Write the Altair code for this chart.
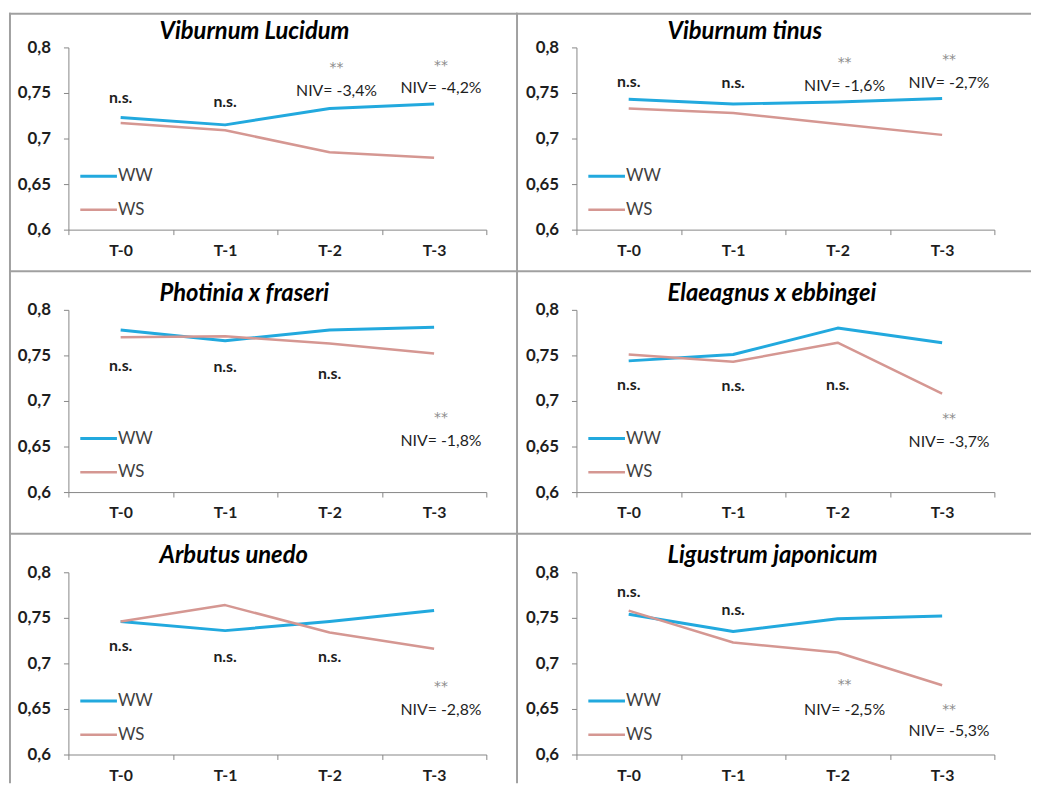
import altair as alt
import pandas as pd

# ---------------- data ----------------
times = ["T-0", "T-1", "T-2", "T-3"]
series_names = ["WW", "WS"]

species = [
    "Viburnum Lucidum",
    "Viburnum tinus",
    "Photinia x fraseri",
    "Elaeagnus x ebbingei",
    "Arbutus unedo",
    "Ligustrum japonicum",
]

ww_viburnum_lucidum = [0.723, 0.715, 0.733, 0.738]
ws_viburnum_lucidum = [0.717, 0.709, 0.685, 0.679]
ww_viburnum_tinus = [0.743, 0.738, 0.740, 0.744]
ws_viburnum_tinus = [0.733, 0.728, 0.716, 0.704]
ww_photinia = [0.778, 0.766, 0.778, 0.781]
ws_photinia = [0.770, 0.771, 0.763, 0.752]
ww_elaeagnus = [0.744, 0.751, 0.780, 0.764]
ws_elaeagnus = [0.751, 0.743, 0.764, 0.708]
ww_arbutus = [0.746, 0.736, 0.746, 0.758]
ws_arbutus = [0.746, 0.764, 0.734, 0.716]
ww_ligustrum = [0.754, 0.735, 0.749, 0.752]
ws_ligustrum = [0.758, 0.723, 0.712, 0.676]

ww_values = [ww_viburnum_lucidum, ww_viburnum_tinus, ww_photinia,
             ww_elaeagnus, ww_arbutus, ww_ligustrum]
ws_values = [ws_viburnum_lucidum, ws_viburnum_tinus, ws_photinia,
             ws_elaeagnus, ws_arbutus, ws_ligustrum]

# significance marks per time point and their anchor value
sig_viburnum_lucidum = ["n.s.", "n.s.", "**", "**"]
sig_y_viburnum_lucidum = [0.744, 0.740, 0.782, 0.784]
niv_viburnum_lucidum = ["", "", "NIV= -3,4%", "NIV= -4,2%"]
niv_y_viburnum_lucidum = [0, 0, 0.752, 0.755]

sig_viburnum_tinus = ["n.s.", "n.s.", "**", "**"]
sig_y_viburnum_tinus = [0.762, 0.761, 0.787, 0.791]
niv_viburnum_tinus = ["", "", "NIV= -1,6%", "NIV= -2,7%"]
niv_y_viburnum_tinus = [0, 0, 0.758, 0.761]

sig_photinia = ["n.s.", "n.s.", "n.s.", "**"]
sig_y_photinia = [0.738, 0.737, 0.7295, 0.686]
niv_photinia = ["", "", "", "NIV= -1,8%"]
niv_y_photinia = [0, 0, 0, 0.656]

sig_elaeagnus = ["n.s.", "n.s.", "n.s.", "**"]
sig_y_elaeagnus = [0.718, 0.716, 0.718, 0.684]
niv_elaeagnus = ["", "", "", "NIV= -3,7%"]
niv_y_elaeagnus = [0, 0, 0, 0.6545]

sig_arbutus = ["n.s.", "n.s.", "n.s.", "**"]
sig_y_arbutus = [0.719, 0.707, 0.707, 0.678]
niv_arbutus = ["", "", "", "NIV= -2,8%"]
niv_y_arbutus = [0, 0, 0, 0.649]

sig_ligustrum = ["n.s.", "n.s.", "**", "**"]
sig_y_ligustrum = [0.778, 0.759, 0.681, 0.6535]
niv_ligustrum = ["", "", "NIV= -2,5%", "NIV= -5,3%"]
niv_y_ligustrum = [0, 0, 0.649, 0.626]

sig_labels = [sig_viburnum_lucidum, sig_viburnum_tinus, sig_photinia,
              sig_elaeagnus, sig_arbutus, sig_ligustrum]
sig_ys = [sig_y_viburnum_lucidum, sig_y_viburnum_tinus, sig_y_photinia,
          sig_y_elaeagnus, sig_y_arbutus, sig_y_ligustrum]
niv_labels = [niv_viburnum_lucidum, niv_viburnum_tinus, niv_photinia,
              niv_elaeagnus, niv_arbutus, niv_ligustrum]
niv_ys = [niv_y_viburnum_lucidum, niv_y_viburnum_tinus, niv_y_photinia,
          niv_y_elaeagnus, niv_y_arbutus, niv_y_ligustrum]

y_ticks = [0.6, 0.65, 0.7, 0.75, 0.8]

# ---------------- style ----------------
FONT = "Lato"
TXT = "#1e1e1e"
AXIS_GRAY = "#868686"
BORDER = "#a0a0a0"
series_colors = ["#22A9DE", "#D59792"]
series_widths = [3.0, 2.5]
PW, PH = 422, 184

color_scale = alt.Scale(domain=series_names, range=series_colors)


def x_enc():
    return alt.X(
        "time:N", sort=times, bandPosition=0.5,
        scale=alt.Scale(type="band", domain=times, paddingInner=0, paddingOuter=0),
        axis=alt.Axis(title=None, labelAngle=0, tickBand="extent", grid=False,
                      domainColor=AXIS_GRAY, tickColor=AXIS_GRAY, tickSize=5,
                      labelPadding=8, labelFont=FONT, labelFontSize=16,
                      labelFontWeight="bold", labelColor=TXT),
    )


def y_enc():
    return alt.Y(
        "value:Q",
        scale=alt.Scale(domain=[0.6, 0.8], nice=False, zero=False),
        axis=alt.Axis(title=None, values=y_ticks, grid=False,
                      labelExpr="replace(format(datum.value, '~g'), '.', ',')",
                      domainColor=AXIS_GRAY, tickColor=AXIS_GRAY, tickSize=5,
                      labelPadding=13, labelFont=FONT, labelFontSize=17,
                      labelFontWeight="bold", labelColor=TXT),
    )


def panel(i):
    row = i // 2
    col = i % 2
    name = species[i]

    recs = []
    for s, vals in zip(series_names, [ww_values[i], ws_values[i]]):
        for t, v in zip(times, vals):
            recs.append({"time": t, "series": s, "value": v})
    df = pd.DataFrame(recs)

    ns_df = pd.DataFrame([{"time": t, "value": y, "label": l}
                          for t, l, y in zip(times, sig_labels[i], sig_ys[i]) if l == "n.s."])
    st_df = pd.DataFrame([{"time": t, "value": y, "label": l}
                          for t, l, y in zip(times, sig_labels[i], sig_ys[i]) if l == "**"])
    niv_df = pd.DataFrame([{"time": t, "value": y, "label": l}
                           for t, l, y in zip(times, niv_labels[i], niv_ys[i]) if l])
    title_df = pd.DataFrame({"title": [name]})

    # panel frame
    top = -34 if row == 0 else -39
    bottom = 213 if row == 2 else 226
    left = -59 if col == 0 else -60
    right = 453 if col == 0 else 459
    frame_top = alt.Chart(title_df).mark_rule(color=BORDER, strokeWidth=2).encode(
        x=alt.value(left - 1), x2=alt.value(right), y=alt.value(top))
    frame_left = alt.Chart(title_df).mark_rule(color=BORDER, strokeWidth=2).encode(
        x=alt.value(left), y=alt.value(top - 1), y2=alt.value(bottom))

    lines = alt.Chart(df).mark_line(strokeJoin="round").encode(
        x=x_enc(), y=y_enc(),
        color=alt.Color("series:N", scale=color_scale, legend=None),
        strokeWidth=alt.StrokeWidth("series:N",
                                    scale=alt.Scale(domain=series_names, range=series_widths),
                                    legend=None),
    )

    layers = [frame_top, frame_left, lines]

    if len(ns_df):
        layers.append(alt.Chart(ns_df).mark_text(
            font=FONT, fontSize=16, fontWeight="bold", color=TXT, baseline="middle"
        ).encode(x=x_enc(), y=y_enc(), text="label:N"))
    if len(st_df):
        layers.append(alt.Chart(st_df).mark_text(
            font="DejaVu Sans", fontSize=14, color="#8c8c8c", baseline="middle", dx=7, dy=4
        ).encode(x=x_enc(), y=y_enc(), text="label:N"))
    if len(niv_df):
        layers.append(alt.Chart(niv_df).mark_text(
            font=FONT, fontSize=16, color=TXT, baseline="middle", dx=7
        ).encode(x=x_enc(), y=y_enc(), text="label:N"))

    layers.append(alt.Chart(title_df).mark_text(
        font=FONT, fontSize=24, fontWeight="bold", fontStyle="italic", color="#000000",
        align="left", baseline="alphabetic"
    ).encode(x=alt.value(92), y=alt.value(-9), text="title:N"))

    # legend
    for k, s in enumerate(series_names):
        sdf = pd.DataFrame({"series": [s]})
        ly = 130 + 34 * k
        layers.append(alt.Chart(sdf).mark_rule().encode(
            x=alt.value(12), x2=alt.value(49), y=alt.value(ly),
            color=alt.Color("series:N", scale=color_scale, legend=None),
            strokeWidth=alt.value(series_widths[k])))
        layers.append(alt.Chart(sdf).mark_text(
            font=FONT, fontSize=17, color="#404040", align="left", baseline="middle"
        ).encode(x=alt.value(50), y=alt.value(ly), text="series:N"))

    return alt.layer(*layers).properties(width=PW, height=PH)


panels = [panel(i) for i in range(6)]

chart = alt.concat(
    *panels, columns=2, spacing={"row": 81, "column": 91}, bounds="flush"
).properties(padding=0, background="white").configure_view(stroke=None)

chart.save("out.html", embed_options={"renderer": "svg", "actions": False})
